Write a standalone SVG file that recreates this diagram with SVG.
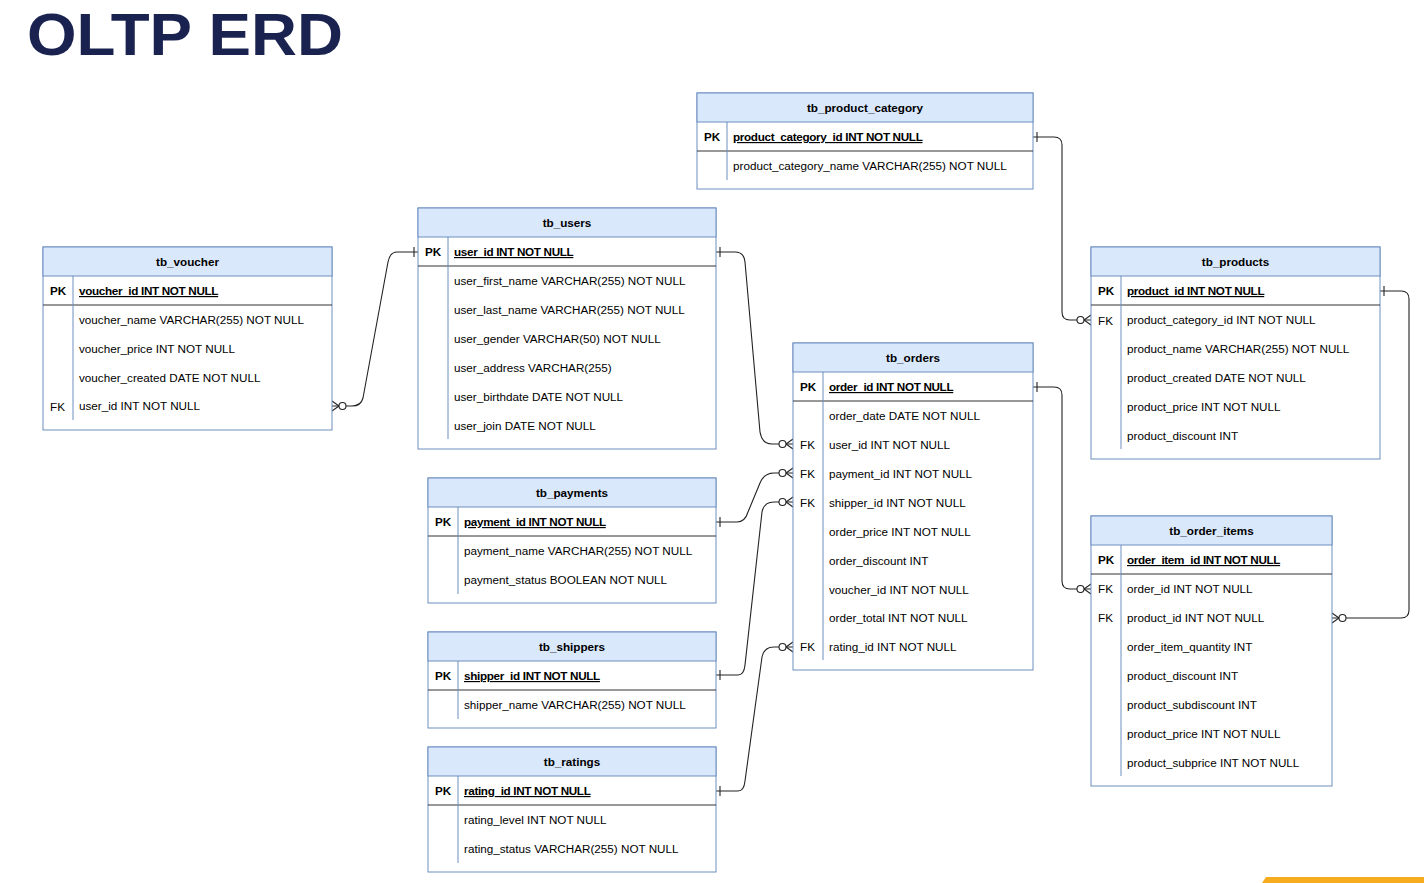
<svg xmlns="http://www.w3.org/2000/svg" width="1424" height="883" viewBox="0 0 1424 883">
<defs>
<style>
.hdr{fill:#dae8fc;stroke:#6c8ebf;stroke-width:1}
.body{fill:#ffffff;stroke:#6c8ebf;stroke-width:1}
.div{stroke:#6c8ebf;stroke-width:1}
.sep{stroke:#333333;stroke-width:1}
.t{font-family:"Liberation Sans",Arial,sans-serif;font-size:11.7px;font-weight:bold;text-anchor:middle;fill:#000}
.f{font-family:"Liberation Sans",Arial,sans-serif;font-size:11.7px;fill:#000}
.k{font-family:"Liberation Sans",Arial,sans-serif;font-size:11.7px;fill:#000}
.kb{font-weight:bold}
.pk{font-weight:bold;text-decoration:underline;letter-spacing:-0.33px}
.conn path{fill:none;stroke:#222;stroke-width:1.1}
.title{font-family:"Liberation Sans",Arial,sans-serif;font-size:60px;font-weight:bold;fill:#1a2350}
</style>
<marker id="one" markerUnits="userSpaceOnUse" markerWidth="30" markerHeight="20" viewBox="-15 -10 30 20" refX="0" refY="0" orient="auto" overflow="visible">
<path d="M4,-5 V5" stroke="#222" stroke-width="1.1" fill="none"/>
</marker>
<marker id="many" markerUnits="userSpaceOnUse" markerWidth="30" markerHeight="20" viewBox="-20 -10 30 20" refX="0" refY="0" orient="auto" overflow="visible">
<path d="M0,-5 L-7,0 L0,5" stroke="#222" stroke-width="1.1" fill="none"/>
<circle cx="-10.5" cy="0" r="3.5" fill="#fff" stroke="#222" stroke-width="1.1"/>
</marker>
</defs>
<rect x="0" y="0" width="1424" height="883" fill="#ffffff"/>
<text class="title" x="27" y="55" textLength="316" lengthAdjust="spacingAndGlyphs">OLTP ERD</text>
<polygon points="1266,877 1424,877 1424,883 1262,883" fill="#f7ab1e"/>

<g id="connectors" class="conn">
<path d="M418,252 H397 Q390,252 388,262 L363,398 Q361,406 352,406 H332" marker-start="url(#one)" marker-end="url(#many)"/>
<path d="M716,252 H735 Q744,252 745,262 L760,432 Q762,444 772,444 H793" marker-start="url(#one)" marker-end="url(#many)"/>
<path d="M716,522 H737 Q745,522 748,512 L760,483 Q764,473 774,473 H793" marker-start="url(#one)" marker-end="url(#many)"/>
<path d="M716,675 H738 Q744,675 745,665 L762,512 Q764,502 774,502 H793" marker-start="url(#one)" marker-end="url(#many)"/>
<path d="M716,791 H738 Q744,791 745,781 L762,657 Q764,647 774,647 H793" marker-start="url(#one)" marker-end="url(#many)"/>
<path d="M1033,137 H1054 Q1062,137 1062,145 V312 Q1062,320 1070,320 H1091" marker-start="url(#one)" marker-end="url(#many)"/>
<path d="M1033,387 H1054 Q1062,387 1062,395 V581 Q1062,589 1070,589 H1091" marker-start="url(#one)" marker-end="url(#many)"/>
<path d="M1380,291 H1401 Q1409,291 1409,299 V610 Q1409,618 1401,618 H1332" marker-start="url(#one)" marker-end="url(#many)"/>
</g>

<g id="tb_voucher">
<rect class="body" x="43" y="247" width="289" height="183"/>
<rect class="hdr" x="43" y="247" width="289" height="29"/>
<text class="t" x="187.5" y="266">tb_voucher</text>
<line class="sep" x1="43" y1="305" x2="332" y2="305"/>
<line class="div" x1="73" y1="276" x2="73" y2="420"/>
<text class="k kb" x="50" y="295">PK</text>
<text class="f pk" x="79" y="295">voucher_id INT NOT NULL</text>
<text class="f" x="79" y="324">voucher_name VARCHAR(255) NOT NULL</text>
<text class="f" x="79" y="353">voucher_price INT NOT NULL</text>
<text class="f" x="79" y="382">voucher_created DATE NOT NULL</text>
<text class="k" x="50" y="411">FK</text>
<text class="f" x="79" y="410">user_id INT NOT NULL</text>
</g>

<g id="tb_users">
<rect class="body" x="418" y="208" width="298" height="241"/>
<rect class="hdr" x="418" y="208" width="298" height="29"/>
<text class="t" x="567" y="227">tb_users</text>
<line class="sep" x1="418" y1="266" x2="716" y2="266"/>
<line class="div" x1="448" y1="237" x2="448" y2="439"/>
<text class="k kb" x="425" y="256">PK</text>
<text class="f pk" x="454" y="256">user_id INT NOT NULL</text>
<text class="f" x="454" y="285">user_first_name VARCHAR(255) NOT NULL</text>
<text class="f" x="454" y="314">user_last_name VARCHAR(255) NOT NULL</text>
<text class="f" x="454" y="343">user_gender VARCHAR(50) NOT NULL</text>
<text class="f" x="454" y="372">user_address VARCHAR(255)</text>
<text class="f" x="454" y="401">user_birthdate DATE NOT NULL</text>
<text class="f" x="454" y="430">user_join DATE NOT NULL</text>
</g>

<g id="tb_product_category">
<rect class="body" x="697" y="93" width="336" height="96"/>
<rect class="hdr" x="697" y="93" width="336" height="29"/>
<text class="t" x="865" y="112">tb_product_category</text>
<line class="sep" x1="697" y1="151" x2="1033" y2="151"/>
<line class="div" x1="727" y1="122" x2="727" y2="180"/>
<text class="k kb" x="704" y="141">PK</text>
<text class="f pk" x="733" y="141">product_category_id INT NOT NULL</text>
<text class="f" x="733" y="170">product_category_name VARCHAR(255) NOT NULL</text>
</g>

<g id="tb_products">
<rect class="body" x="1091" y="247" width="289" height="212"/>
<rect class="hdr" x="1091" y="247" width="289" height="29"/>
<text class="t" x="1235.5" y="266">tb_products</text>
<line class="sep" x1="1091" y1="305" x2="1380" y2="305"/>
<line class="div" x1="1121" y1="276" x2="1121" y2="449"/>
<text class="k kb" x="1098" y="295">PK</text>
<text class="f pk" x="1127" y="295">product_id INT NOT NULL</text>
<text class="k" x="1098" y="325">FK</text>
<text class="f" x="1127" y="324">product_category_id INT NOT NULL</text>
<text class="f" x="1127" y="353">product_name VARCHAR(255) NOT NULL</text>
<text class="f" x="1127" y="382">product_created DATE NOT NULL</text>
<text class="f" x="1127" y="411">product_price INT NOT NULL</text>
<text class="f" x="1127" y="440">product_discount INT</text>
</g>

<g id="tb_orders">
<rect class="body" x="793" y="343" width="240" height="327"/>
<rect class="hdr" x="793" y="343" width="240" height="29"/>
<text class="t" x="913" y="362">tb_orders</text>
<line class="sep" x1="793" y1="401" x2="1033" y2="401"/>
<line class="div" x1="823" y1="372" x2="823" y2="660"/>
<text class="k kb" x="800" y="391">PK</text>
<text class="f pk" x="829" y="391">order_id INT NOT NULL</text>
<text class="f" x="829" y="420">order_date DATE NOT NULL</text>
<text class="k" x="800" y="449">FK</text>
<text class="f" x="829" y="449">user_id INT NOT NULL</text>
<text class="k" x="800" y="478">FK</text>
<text class="f" x="829" y="478">payment_id INT NOT NULL</text>
<text class="k" x="800" y="507">FK</text>
<text class="f" x="829" y="507">shipper_id INT NOT NULL</text>
<text class="f" x="829" y="536">order_price INT NOT NULL</text>
<text class="f" x="829" y="565">order_discount INT</text>
<text class="f" x="829" y="594">voucher_id INT NOT NULL</text>
<text class="f" x="829" y="622">order_total INT NOT NULL</text>
<text class="k" x="800" y="651">FK</text>
<text class="f" x="829" y="651">rating_id INT NOT NULL</text>
</g>

<g id="tb_payments">
<rect class="body" x="428" y="478" width="288" height="125"/>
<rect class="hdr" x="428" y="478" width="288" height="29"/>
<text class="t" x="572" y="497">tb_payments</text>
<line class="sep" x1="428" y1="536" x2="716" y2="536"/>
<line class="div" x1="458" y1="507" x2="458" y2="594"/>
<text class="k kb" x="435" y="526">PK</text>
<text class="f pk" x="464" y="526">payment_id INT NOT NULL</text>
<text class="f" x="464" y="555">payment_name VARCHAR(255) NOT NULL</text>
<text class="f" x="464" y="584">payment_status BOOLEAN NOT NULL</text>
</g>

<g id="tb_shippers">
<rect class="body" x="428" y="632" width="288" height="96"/>
<rect class="hdr" x="428" y="632" width="288" height="29"/>
<text class="t" x="572" y="651">tb_shippers</text>
<line class="sep" x1="428" y1="690" x2="716" y2="690"/>
<line class="div" x1="458" y1="661" x2="458" y2="719"/>
<text class="k kb" x="435" y="680">PK</text>
<text class="f pk" x="464" y="680">shipper_id INT NOT NULL</text>
<text class="f" x="464" y="709">shipper_name VARCHAR(255) NOT NULL</text>
</g>

<g id="tb_ratings">
<rect class="body" x="428" y="747" width="288" height="125"/>
<rect class="hdr" x="428" y="747" width="288" height="29"/>
<text class="t" x="572" y="766">tb_ratings</text>
<line class="sep" x1="428" y1="805" x2="716" y2="805"/>
<line class="div" x1="458" y1="776" x2="458" y2="863"/>
<text class="k kb" x="435" y="795">PK</text>
<text class="f pk" x="464" y="795">rating_id INT NOT NULL</text>
<text class="f" x="464" y="824">rating_level INT NOT NULL</text>
<text class="f" x="464" y="853">rating_status VARCHAR(255) NOT NULL</text>
</g>

<g id="tb_order_items">
<rect class="body" x="1091" y="516" width="241" height="270"/>
<rect class="hdr" x="1091" y="516" width="241" height="29"/>
<text class="t" x="1211.5" y="535">tb_order_items</text>
<line class="sep" x1="1091" y1="574" x2="1332" y2="574"/>
<line class="div" x1="1121" y1="545" x2="1121" y2="776"/>
<text class="k kb" x="1098" y="564">PK</text>
<text class="f pk" x="1127" y="564">order_item_id INT NOT NULL</text>
<text class="k" x="1098" y="593">FK</text>
<text class="f" x="1127" y="593">order_id INT NOT NULL</text>
<text class="k" x="1098" y="622">FK</text>
<text class="f" x="1127" y="622">product_id INT NOT NULL</text>
<text class="f" x="1127" y="651">order_item_quantity INT</text>
<text class="f" x="1127" y="680">product_discount INT</text>
<text class="f" x="1127" y="709">product_subdiscount INT</text>
<text class="f" x="1127" y="738">product_price INT NOT NULL</text>
<text class="f" x="1127" y="767">product_subprice INT NOT NULL</text>
</g>
</svg>
